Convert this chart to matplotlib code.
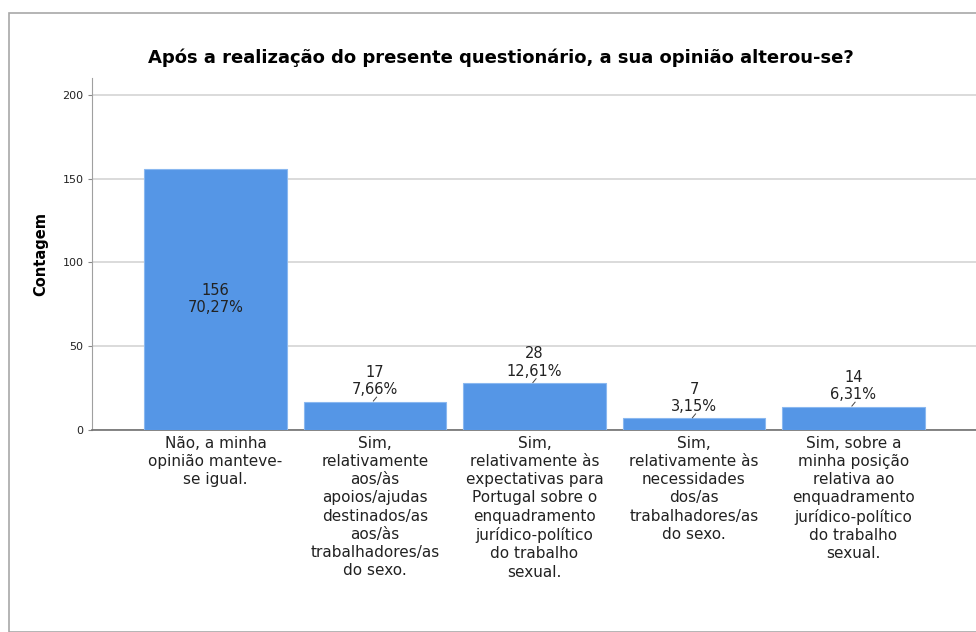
import matplotlib.pyplot as plt
from matplotlib.patches import Rectangle

# Data
categories = [
    "Não, a minha\nopinião manteve-\nse igual.",
    "Sim,\nrelativamente\naos/às\napoios/ajudas\ndestinados/as\naos/às\ntrabalhadores/as\ndo sexo.",
    "Sim,\nrelativamente às\nexpectativas para\nPortugal sobre o\nenquadramento\njurídico-político\ndo trabalho\nsexual.",
    "Sim,\nrelativamente às\nnecessidades\ndos/as\ntrabalhadores/as\ndo sexo.",
    "Sim, sobre a\nminha posição\nrelativa ao\nenquadramento\njurídico-político\ndo trabalho\nsexual.",
]
counts = [156, 17, 28, 7, 14]
percents = ["70,27%", "7,66%", "12,61%", "3,15%", "6,31%"]
yticks = [0, 50, 100, 150, 200]

plt.rcParams['font.family'] = ['DejaVu Sans']

fig = plt.figure(figsize=(9.76, 6.32), dpi=100)
# outer frame as in the SPSS output
fig.patches.append(Rectangle((9 / 976, 0), 1.0, 1 - 13 / 632, transform=fig.transFigure,
                             fill=False, edgecolor="#a8a8a8", linewidth=1.2))

ax = fig.add_axes([92 / 976, 1 - 430 / 632, 1 - 92 / 976, (430 - 78) / 632])
x = list(range(len(counts)))
ax.bar(x, counts, width=0.895, color="#5596e6", edgecolor="#8ab8f0", linewidth=0.8, zorder=3)

ax.set_xlim(-0.774, 4.768)
ax.set_ylim(0, 210)
ax.set_yticks(yticks)
ax.set_yticklabels([str(t) for t in yticks], fontsize=8, color="#222222")
ax.yaxis.grid(True, color="#d4d4d4", linewidth=1.2, zorder=0)
ax.tick_params(axis="y", length=3, color="#888888", pad=3)
ax.tick_params(axis="x", length=0, pad=4)
ax.set_xticks(x)
ax.set_xticklabels(categories, fontsize=11, color="#222222", linespacing=1.27, va="top")

for side in ("top", "right"):
    ax.spines[side].set_visible(False)
ax.spines["left"].set_color("#a0a0a0")
ax.spines["bottom"].set_color("#707070")
ax.spines["bottom"].set_linewidth(1.2)

# value labels
for i, (c, p) in enumerate(zip(counts, percents)):
    if c > 100:
        ax.text(i, c / 2, f"{c}\n{p}", ha="center", va="center", fontsize=10.5,
                color="#222222", linespacing=1.2, zorder=4)
    else:
        ax.plot([i - 0.01, i + 0.01], [c + 0.3, c + 2.6], color="#444444", linewidth=0.7, zorder=4)
        ax.text(i, c + 2.6, f"{c}\n{p}", ha="center", va="bottom", fontsize=10.5,
                color="#222222", linespacing=1.2, zorder=4)

ax.set_ylabel("Contagem", fontsize=10.5, fontweight="bold", labelpad=10)
fig.text(501 / 976, 1 - 58 / 632, "Após a realização do presente questionário, a sua opinião alterou-se?",
         ha="center", va="center", fontsize=13, fontweight="bold")

fig.savefig("out.png", dpi=100)
